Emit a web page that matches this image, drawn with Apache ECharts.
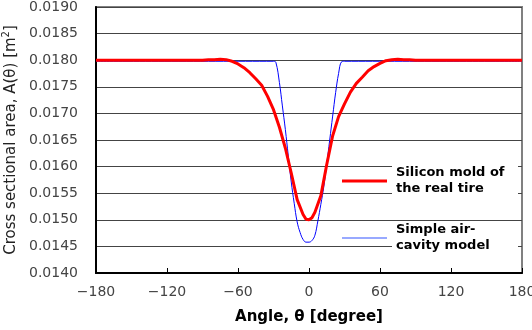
<!DOCTYPE html>
<html>
<head>
<meta charset="utf-8">
<script src="https://cdn.jsdelivr.net/npm/echarts@6/dist/echarts.min.js"></script>
<style>
  html, body { margin: 0; padding: 0; background: #fff; }
  #main { width: 532px; height: 330px; }
</style>
</head>
<body>
<div id="main"></div>
<script>
// angle (deg) and cross sectional area (m^2)
var redAngle = [-180, -90, -85, -80, -75, -70, -65, -60, -55, -50, -45, -40, -35, -30, -25, -20, -15, -10, -5, -2.5, 0,
                2.5, 5, 10, 15, 20, 25, 30, 35, 40, 45, 50, 55, 60, 65, 70, 75, 80, 85, 90, 180];
var redArea = [0.01800, 0.01800, 0.01801, 0.01801, 0.01802, 0.01801, 0.01798, 0.01793, 0.01786, 0.017765, 0.01765, 0.01753,
               0.01732, 0.01707, 0.01674, 0.01635, 0.01588, 0.01538, 0.01510, 0.01501, 0.01500,
               0.01504, 0.01514, 0.01545, 0.01604, 0.01658, 0.01694, 0.01718, 0.01740, 0.017565, 0.01768, 0.01780, 0.01788, 0.01794,
               0.01799, 0.01801, 0.01802, 0.01801, 0.01801, 0.01800, 0.01800];

var blueAngle = [-180, -30, -28, -25, -22.5, -20, -17.5, -15, -12.5, -10, -7.5, -5, -2.5, 0,
                 2.5, 5, 7.5, 10, 12.5, 15, 17.5, 20, 22.5, 25, 27.5, 30, 180];
var blueArea = [0.01798, 0.01798, 0.01796, 0.01758, 0.01714, 0.01670, 0.01620, 0.01571, 0.01531, 0.01496, 0.01476, 0.01463, 0.01458, 0.01458,
                0.01461, 0.01471, 0.01498, 0.01529, 0.01562, 0.01605, 0.01650, 0.01695, 0.01739, 0.01775, 0.01797, 0.01798, 0.01798];

var seriesNames = ['Silicon mold of the real tire', 'Simple air-cavity model'];
var legendLines = [['Silicon mold of', 'the real tire'], ['Simple air-', 'cavity model']];

function pairs(xs, ys) {
    var out = [];
    for (var i = 0; i < xs.length; i++) out.push([xs[i], ys[i]]);
    return out;
}

var chart = echarts.init(document.getElementById('main'));
var font = 'DejaVu Sans';

var legendText = {
    fontFamily: font,
    fontWeight: 'bold',
    fontSize: 13,
    color: '#000',
    lineHeight: 16,
    backgroundColor: '#fff',
    width: 118,
    padding: [0, 4, 0, 4]
};

var option = {
    animation: false,
    grid: {
        left: 96, right: 10, top: 7, bottom: 57,
        outerBoundsMode: 'none',
        containLabel: false,
        show: true,
        borderColor: '#808080',
        borderWidth: 2
    },
    legend: [
        {
            left: 342, top: 165, padding: 0,
            data: [seriesNames[0]],
            icon: 'rect', itemWidth: 45, itemHeight: 3,
            formatter: function () { return legendLines[0].join('\n'); },
            textStyle: legendText
        },
        {
            left: 342, top: 222, padding: 0,
            data: [seriesNames[1]],
            icon: 'rect', itemWidth: 45, itemHeight: 1,
            formatter: function () { return legendLines[1].join('\n'); },
            textStyle: legendText
        }
    ],
    xAxis: {
        type: 'value',
        min: -180, max: 180, interval: 60,
        name: 'Angle, θ [degree]',
        nameLocation: 'middle',
        nameGap: 37,
        nameTextStyle: { fontFamily: font, fontWeight: 'bold', fontSize: 15, color: '#000' },
        axisLine: { onZero: false, lineStyle: { color: '#000', width: 2 } },
        axisTick: { inside: true, length: 5, lineStyle: { color: '#000' } },
        axisLabel: {
            fontFamily: font, fontSize: 14, color: '#444', margin: 12,
            formatter: function (v) { return String(v).replace('-', '\u2212'); }
        },
        splitLine: { show: false }
    },
    yAxis: {
        type: 'value',
        min: 0.014, max: 0.019, interval: 0.0005,
        name: '{t|Cross sectional area, A(θ) [m}{s|2}{t|]}',
        nameLocation: 'middle',
        nameGap: 72,
        nameTextStyle: {
            rich: {
                t: { fontFamily: font, fontSize: 15, color: '#222' },
                s: { fontFamily: font, fontSize: 10, color: '#222', verticalAlign: 'top', padding: [0, 0, 8, 0] }
            }
        },
        axisLine: { show: true, onZero: false, lineStyle: { color: '#000', width: 2 } },
        axisTick: { show: false },
        axisLabel: {
            fontFamily: font, fontSize: 14, color: '#444', margin: 18,
            formatter: function (v) { return v.toFixed(4); }
        },
        splitLine: { lineStyle: { color: '#444', width: 1 } }
    },
    series: [
        {
            name: seriesNames[1],
            type: 'line',
            data: pairs(blueAngle, blueArea),
            smooth: 0.4,
            showSymbol: false,
            lineStyle: { color: '#0000ff', width: 1 },
            itemStyle: { color: '#3355ff' }
        },
        {
            name: seriesNames[0],
            type: 'line',
            data: pairs(redAngle, redArea),
            showSymbol: false,
            lineStyle: { color: '#ff0000', width: 3 },
            itemStyle: { color: '#ff0000' }
        }
    ]
};
chart.setOption(option);
</script>
</body>
</html>
